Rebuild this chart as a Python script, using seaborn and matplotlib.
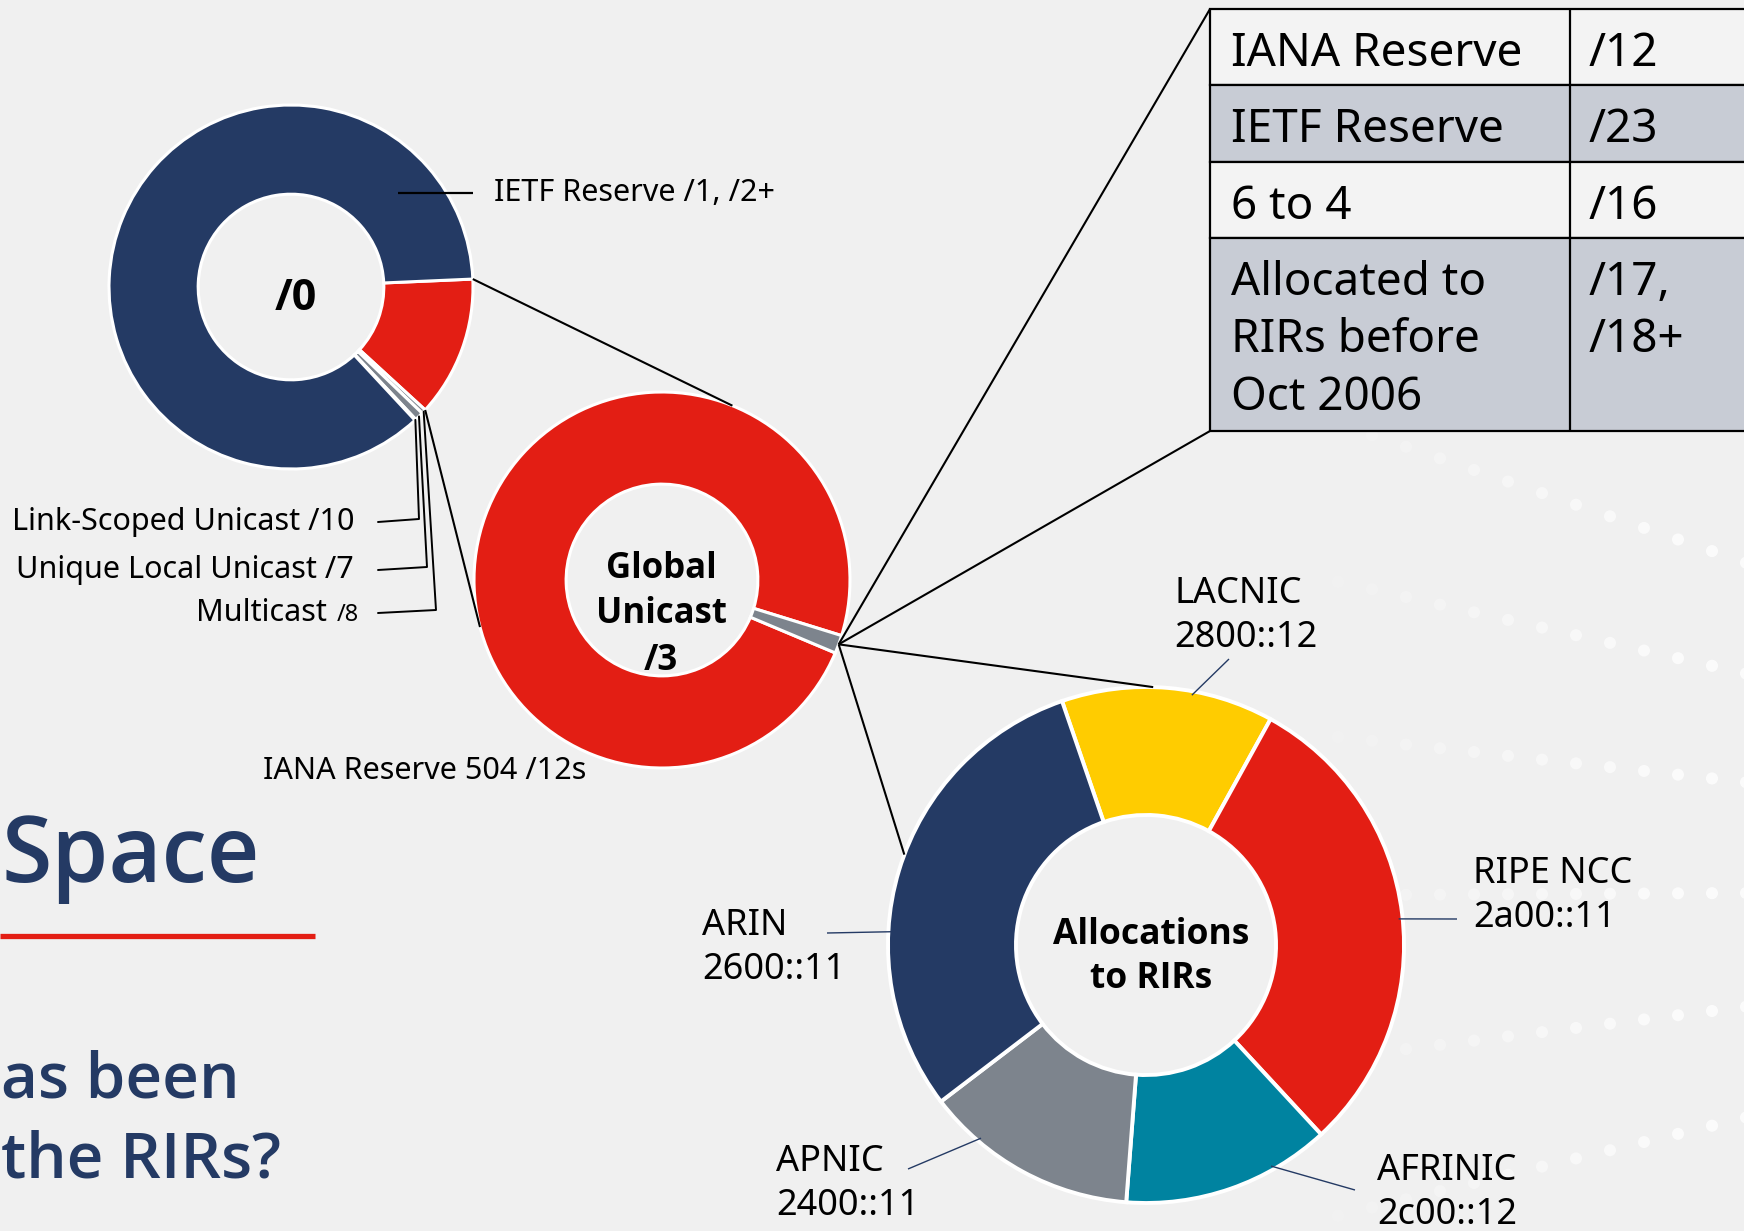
import matplotlib
matplotlib.use("Agg")
import matplotlib.pyplot as plt
from matplotlib.patches import Rectangle
from matplotlib import font_manager as fm
import numpy as np
import seaborn as sns

W, H = 1744, 1231

# ---------------- data ----------------
root_labels = ["Global Unicast /3", "Multicast /8", "Unique Local Unicast /7",
               "Link-Scoped Unicast /10", "IETF Reserve /1, /2+"]
root_sizes = [128, 4, 8, 1, 883]              # in units of /10 blocks of the /0
gu_labels = ["IANA Reserve 504 /12s", "Other /12s"]
gu_sizes = [504, 8]                           # in units of /12 blocks of the /3
rir_names = ["LACNIC", "RIPE NCC", "AFRINIC", "APNIC", "ARIN"]
rir_prefix = ["2800::12", "2a00::11", "2c00::12", "2400::11", "2600::11"]
rir_share = [13.3, 30.1, 13.1, 13.4, 30.1]    # percent of the allocations ring
table_names = ["IANA Reserve", "IETF Reserve", "6 to 4", "Allocated to\nRIRs before\nOct 2006"]
table_sizes = ["/12", "/23", "/16", "/17,\n/18+"]

# ---------------- style ----------------
NAVY, RED, YEL, TEAL, GREY = "#243a64", "#e31e14", "#ffcc00", "#0083a0", "#7d848d"
BG, LIGHT, SHADE = "#f0f0f0", "#f3f3f3", "#c8ccd5"
pal = sns.color_palette([NAVY, RED, YEL, TEAL, GREY])

sns.set_theme(style="white", rc={"figure.facecolor": BG, "axes.facecolor": BG,
                                 "savefig.facecolor": BG})
plt.rcParams["font.family"] = ["Noto Sans", "DejaVu Sans"]


def wnum(w):
    return w if isinstance(w, (int, float)) else fm.weight_dict.get(w, 400)


def font_for(target, fams=("Noto Sans", "Open Sans", "Lato", "Roboto", "DejaVu Sans")):
    for fam in fams:
        cands = [f for f in fm.fontManager.ttflist if f.name == fam and f.style == "normal"]
        if not cands:
            continue
        best = min(cands, key=lambda f: abs(wnum(f.weight) - target))
        if abs(wnum(best.weight) - target) <= 100:
            return best.fname
    return None


BOLD_F = font_for(700)
SEMI_F = font_for(600) or BOLD_F


def fp(fname, size):
    if fname:
        return fm.FontProperties(fname=fname, size=size)
    return fm.FontProperties(family="DejaVu Sans", weight="bold", size=size)


fig = plt.figure(figsize=(W / 100, H / 100), dpi=100)
ax = fig.add_axes([0, 0, 1, 1])


def P(x, y):
    """pixel position (top-left origin) -> data coords"""
    return (x, H - y)


def on_ring(c, r, ang):
    a = np.deg2rad(ang)
    return (c[0] + r * np.cos(a), c[1] + r * np.sin(a))


def seg(p, q, **kw):
    ax.plot([p[0], q[0]], [p[1], q[1]], solid_capstyle="butt", **kw)


# ---------------- decorative dotted background rays ----------------
vp = P(2700, 888)
for y_end in [562, 673, 782, 893, 1007, 1118]:
    e = P(1744, y_end)
    xs = np.arange(1270, 1760, 34.0)
    t = (xs - vp[0]) / (e[0] - vp[0])
    ys = vp[1] + t * (e[1] - vp[1])
    alph = np.clip((xs - 1270) / 440, 0, 1) * 0.8
    cols = [(1, 1, 1, a) for a in alph]
    ax.scatter(xs, ys, s=75, c=cols, linewidths=0, zorder=0)

# ---------------- donut 1 : /0 ----------------
c1, R1 = P(291, 287), 182
w1, _ = ax.pie(root_sizes, colors=[pal[1], pal[4], pal[4], pal[4], pal[0]], center=c1,
               radius=R1, startangle=2.5, counterclock=False,
               wedgeprops=dict(width=R1 * 0.49, edgecolor="white", linewidth=2.2))

# ---------------- donut 2 : Global Unicast /3 ----------------
c2, R2 = P(662, 580), 188
w2, _ = ax.pie(gu_sizes, colors=[pal[1], pal[4]], center=c2, radius=R2,
               startangle=-17.2, counterclock=True,
               wedgeprops=dict(width=R2 * 0.49, edgecolor="white", linewidth=2.2))

# ---------------- donut 3 : allocations to RIRs ----------------
c3, R3 = P(1146, 945), 258
w3, _ = ax.pie(rir_share, colors=[pal[2], pal[1], pal[3], pal[4], pal[0]], center=c3,
               radius=R3, startangle=109, counterclock=False,
               wedgeprops=dict(width=R3 * 0.496, edgecolor="white", linewidth=2.8))

ax.set_xlim(0, W)
ax.set_ylim(0, H)
ax.set_aspect("equal")
ax.set_axis_off()

LK = dict(color="black", lw=1.5, zorder=5)

# zoom lines donut1 -> donut2
red = w1[0]
seg(on_ring(c1, R1, red.theta2), on_ring(c2, R2, 68), **LK)
seg(on_ring(c1, R1, red.theta1), on_ring(c2, R2, 194.5), **LK)

# ---------------- table ----------------
TX0, TX1, TX2 = 1210, 1570, 1760
row_top = [9, 85, 162, 238]
row_bot = [85, 162, 238, 431]
for i, (a, b) in enumerate(zip(row_top, row_bot)):
    fc = LIGHT if i % 2 == 0 else SHADE
    ax.add_patch(Rectangle(P(TX0, b), TX2 - TX0, b - a, facecolor=fc,
                           edgecolor="black", lw=1.6, zorder=3))
    seg(P(TX1, a), P(TX1, b), color="black", lw=1.6, zorder=4)
    for j, (txt, x) in enumerate([(table_names[i], TX0 + 21), (table_sizes[i], TX1 + 19)]):
        for k, line in enumerate(txt.split("\n")):
            ax.text(*P(x, a + 57 + 57.5 * k), line, fontsize=33, color="black",
                    ha="left", va="baseline", zorder=6)

# zoom lines grey wedge -> table and -> donut3
gw = w2[1]
g0 = on_ring(c2, R2, (gw.theta1 + gw.theta2) / 2)
seg(g0, P(TX0, row_top[0]), **LK)
seg(g0, P(TX0, row_bot[-1]), **LK)
seg(g0, on_ring(c3, R3, 88.4), **LK)
seg(g0, on_ring(c3, R3, 159.5), **LK)

# ---------------- labels donut 1 ----------------
TL = dict(fontsize=22, color="black", zorder=6)
ietf_anchor = on_ring(c1, 142, 41.3)
seg(ietf_anchor, (473, ietf_anchor[1]), color="black", lw=1.6, zorder=5)
ax.text(494, ietf_anchor[1], root_labels[4], ha="left", va="center", **TL)

grey_lab = {3: (522, 419), 2: (570, 427), 1: (613, 436)}
for idx, (ly, kx) in grey_lab.items():
    w = w1[idx]
    wp = on_ring(c1, R1, (w.theta1 + w.theta2) / 2)
    pts = [P(378, ly), P(kx, ly - 3), wp]
    ax.plot([p[0] for p in pts], [p[1] for p in pts], color="black", lw=1.4, zorder=5)

ax.text(*P(354, 522), root_labels[3], ha="right", va="center", **TL)
ax.text(*P(354, 570), root_labels[2], ha="right", va="center", **TL)
ax.text(*P(327, 613), "Multicast", ha="right", va="center", **TL)
ax.text(*P(359, 615), "/8", ha="right", va="center", fontsize=17, color="black")

ax.text(*P(263, 771), gu_labels[0], ha="left", va="center", **TL)

# ---------------- centre labels ----------------
CB = dict(color="black", ha="center", va="baseline", zorder=6)
ax.text(*P(296, 310), "/0", fontproperties=fp(BOLD_F, 31), **CB)
for txt, yb in zip(["Global", "Unicast", "/3"], [578, 623, 670]):
    ax.text(*P(661, yb), txt, fontproperties=fp(BOLD_F, 25), **CB)
for txt, yb in zip(["Allocations", "to RIRs"], [944, 988]):
    ax.text(*P(1151, yb), txt, fontproperties=fp(BOLD_F, 25.5), **CB)

# ---------------- RIR labels ----------------
lab_pos = [(1174, 603), (1473, 883), (1377, 1180), (776, 1171), (702, 935)]
lead_ang = [79.6, 5.9, -60.5, -130.5, 177]
lead_end = [(1229, 659), (1457, 919), (1355, 1190), (908, 1169), (827, 933)]
for name, pre, (lx, ly), ang, le in zip(rir_names, rir_prefix, lab_pos, lead_ang, lead_end):
    ax.text(*P(lx, ly), name, fontsize=26, color="black", ha="left", va="baseline", zorder=6)
    ax.text(*P(lx, ly + 44), pre, fontsize=26, color="black", ha="left", va="baseline", zorder=6)
    seg(on_ring(c3, 254, ang), P(*le), color=NAVY, lw=1.0, zorder=5)

# ---------------- slide title fragments ----------------
ax.text(*P(1, 882), "Space", fontproperties=fp(SEMI_F, 66), color=NAVY,
        ha="left", va="baseline")
seg(P(0, 935.5), P(315, 935.5), color=RED, lw=3.8)
ax.text(*P(1, 1098), "as been", fontproperties=fp(SEMI_F, 46), color=NAVY,
        ha="left", va="baseline")
ax.text(*P(1, 1178), "the RIRs?", fontproperties=fp(SEMI_F, 46), color=NAVY,
        ha="left", va="baseline")

fig.savefig("out.png", dpi=100, facecolor=BG)
